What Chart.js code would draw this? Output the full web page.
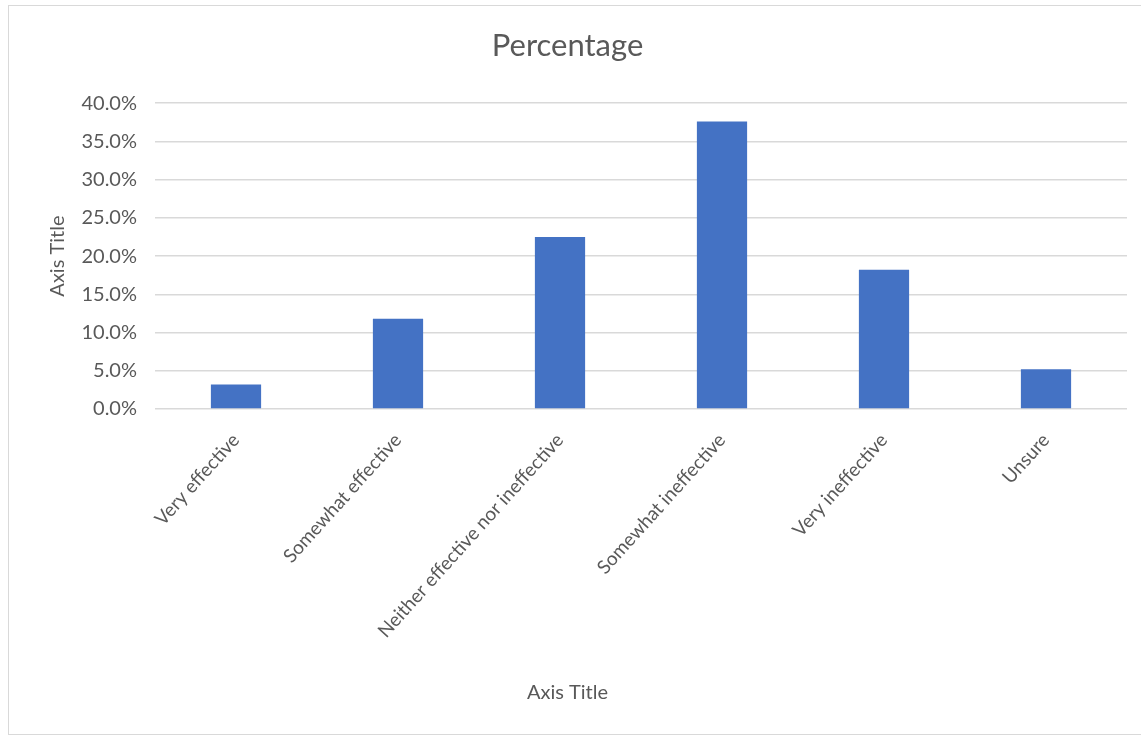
<!DOCTYPE html>
<html>
<head>
<meta charset="utf-8">
<script src="https://cdn.jsdelivr.net/npm/chart.js@4"></script>
<style>
  html, body { margin: 0; padding: 0; background: #fff; }
  #frame { position: absolute; left: 8px; top: 5px; width: 1140px; height: 730px; border: 1px solid #d9d9d9; box-sizing: border-box; }
  #wrap { position: absolute; left: 0; top: 0; width: 1141px; height: 738px; }
</style>
</head>
<body>
<div id="frame"></div>
<div id="wrap"><canvas id="myChart"></canvas></div>
<script>
const categories = ['Very effective', 'Somewhat effective', 'Neither effective nor ineffective', 'Somewhat ineffective', 'Very ineffective', 'Unsure'];
const percentages = [3.2, 11.8, 22.5, 37.6, 18.2, 5.2];
const yTicks = [0, 5, 10, 15, 20, 25, 30, 35, 40];

const grey = '#595959';
const fontFamily = 'Lato, "Open Sans", sans-serif';

const ctx = document.getElementById('myChart');

new Chart(ctx, {
  type: 'bar',
  data: {
    labels: categories,
    datasets: [{
      label: 'Percentage',
      data: percentages,
      backgroundColor: '#4472C4',
      borderWidth: 0,
      categoryPercentage: 1,
      barPercentage: 0.31
    }]
  },
  options: {
    responsive: true,
    maintainAspectRatio: false,
    animation: false,
    layout: {
      padding: { left: 8, top: 5, right: 14, bottom: 5 }
    },
    plugins: {
      legend: { display: false },
      tooltip: { enabled: false },
      title: {
        display: true,
        text: 'Percentage',
        color: grey,
        font: { family: fontFamily, size: 31, weight: 'normal' },
        padding: { top: 22, bottom: 39 }
      },
      subtitle: {
        display: true,
        position: 'bottom',
        text: 'Axis Title',
        color: grey,
        font: { family: fontFamily, size: 20, weight: 'normal' },
        padding: { top: 10, bottom: 28 }
      }
    },
    scales: {
      x: {
        grid: { display: false },
        border: { display: false },
        ticks: {
          color: grey,
          font: { family: fontFamily, size: 19 },
          minRotation: 48,
          maxRotation: 48,
          padding: 12
        },
        afterFit: function(scale) { scale.height = 262; }
      },
      y: {
        min: 0,
        max: 40,
        afterBuildTicks: function(scale) {
          scale.ticks = yTicks.map(v => ({ value: v }));
        },
        grid: { color: '#d9d9d9', drawTicks: false, lineWidth: 1.5 },
        border: { display: false },
        ticks: {
          color: grey,
          font: { family: fontFamily, size: 20 },
          padding: 18,
          callback: v => v.toFixed(1) + '%'
        },
        title: {
          display: true,
          text: 'Axis Title',
          color: grey,
          font: { family: fontFamily, size: 20 },
          padding: { top: 38, bottom: 0 }
        },
        afterFit: function(scale) { scale.width = 147; }
      }
    }
  }
});
</script>
</body>
</html>
